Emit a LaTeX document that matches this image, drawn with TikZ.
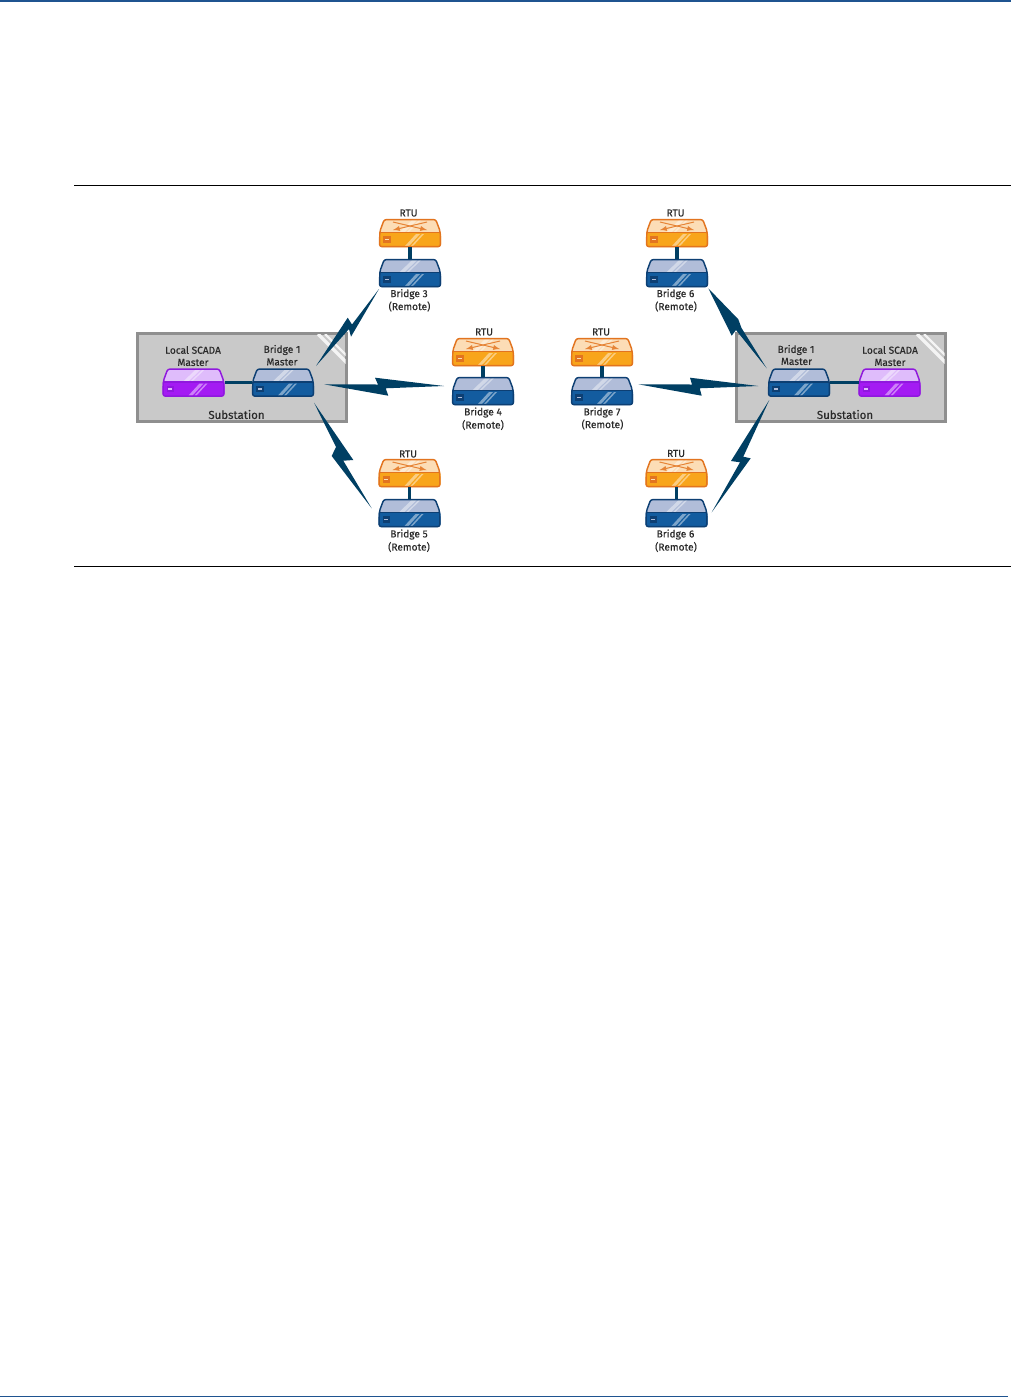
\documentclass[tikz,border=0pt]{standalone}
\usepackage{fontspec}
\setmainfont{Fira Sans}[FakeBold=0.25,AutoFakeBold=0.25]
\newfontfamily\lblfont{Fira Sans}[RawFeature={embolden=0.3}]
\definecolor{devLine}{HTML}{0D3F73}
\definecolor{boltCol}{HTML}{003F63}
\definecolor{txtCol}{HTML}{2A2A2A}
\tikzset{
  devbox/.style={minimum width=46.5pt,minimum height=21pt,inner sep=0pt,outer sep=0pt},
  lbl/.style={font=\lblfont\fontsize{7.6pt}{8pt}\selectfont,text=txtCol,inner sep=0pt},
  sublbl/.style={font=\lblfont\fontsize{8.6pt}{9pt}\selectfont,text=txtCol,inner sep=0pt},
  boltshape/.style={fill=boltCol,draw=none},
  link/.style={draw=boltCol,line width=2.5pt},
  subbox/.style={fill=black!21,draw=black!44,line width=1.8pt,minimum width=156.75pt,minimum height=66pt,inner sep=0pt,outer sep=0pt,anchor=north west},
  glass/.style={draw=white!80!black!21,line cap=butt},
  rule/.style={draw=black,line width=1pt},
  bar/.style={fill=#1,draw=none}
}
% name, x, y, outline, top panel, body
\newcommand{\device}[6]{%
  \begin{scope}[shift={(#2,#3)}]
    \node[devbox] (#1) at (31,14) {};
    \fill[#6,rounded corners=2.2pt] (0,12) rectangle (62,28);
    \fill[#5] (5.5,0.6) -- (56.5,0.6) -- (60.6,13.5) -- (1.4,13.5) -- cycle;
    \fill[white,opacity=.42] (21,12.8) -- (33,1.2) -- (38,1.2) -- (26,12.8) -- cycle;
    \fill[white,opacity=.42] (28,12.8) -- (40,1.2) -- (42,1.2) -- (30,12.8) -- cycle;
    \fill[white,opacity=.45] (26,27) -- (37,15) -- (41,15) -- (30,27) -- cycle;
    \fill[white,opacity=.45] (32,27) -- (43,15) -- (45,15) -- (34,27) -- cycle;
    \draw[#4,line width=1.1pt,line join=round,rounded corners=1.6pt]
      (5.2,0.6) -- (56.8,0.6) -- (61.2,12.5) -- (61.4,27.6) -- (0.6,27.6) -- (0.8,12.5) -- cycle;
    \draw[#4,line width=1.1pt] (0.8,13.6) -- (61.2,13.6);
    \fill[#4] (4,17.4) rectangle (11.5,23.6);
    \fill[#5] (5.7,19.6) rectangle (9.8,21.4);
  \end{scope}%
}
\begin{document}
\begin{tikzpicture}[x=0.75pt,y=-0.75pt]
\definecolor{devBody}{HTML}{135C9F}
\definecolor{devTop}{HTML}{B1BDD9}
\definecolor{rtuLine}{HTML}{E2741F}
\definecolor{rtuTop}{HTML}{FCDDB6}
\definecolor{rtuBody}{HTML}{F8A51B}
\definecolor{purLine}{HTML}{9018DE}
\definecolor{purTop}{HTML}{DFBCFB}
\definecolor{purBody}{HTML}{A41BF3}
\definecolor{barCol}{HTML}{1F5490}
\useasboundingbox (0,0) rectangle (1011,1397);
\fill[white] (0,0) rectangle (1011,1397);
% page furniture
\fill[bar=barCol] (0,0) rectangle (1011,2.2);
\fill[bar=barCol] (0,1396) rectangle (1008,1397);
\coordinate (ruleAL) at (74,185.5); \coordinate (ruleAR) at (1011,185.5);
\coordinate (ruleBL) at (74,566.5); \coordinate (ruleBR) at (1011,566.5);
\draw[rule] (ruleAL) -- (ruleAR);
\draw[rule] (ruleBL) -- (ruleBR);
% substations
\node[subbox] (subL) at (137.5,333.5) {};
\node[subbox] (subR) at (736.5,333.5) {};
\begin{scope}
  \clip (138.5,334.5) rectangle (345.5,420.5);
  \draw[glass,line width=2.4pt] (318,334) -- (347,363);
  \draw[glass,line width=1.6pt] (325,334) -- (347,356);
\end{scope}
\begin{scope}
  \clip (737.5,334.5) rectangle (944.5,420.5);
  \draw[glass,line width=2.4pt] (917,334) -- (946,363);
  \draw[glass,line width=1.6pt] (924,334) -- (946,356);
\end{scope}
% devices
\newcommand{\bridge}[3]{\device{#1}{#2}{#3}{devLine}{devTop}{devBody}}
\newcommand{\rtu}[3]{%
  \device{#1}{#2}{#3}{rtuLine}{rtuTop}{rtuBody}%
  \begin{scope}[shift={(#2,#3)}]
    \draw[rtuLine!85!rtuTop,line width=.75pt,-latex] (14,3) -- (48,11);
    \draw[rtuLine!85!rtuTop,line width=.75pt,-latex] (48,3) -- (14,11);
  \end{scope}}
\device{scadaL}{162.5}{368.5}{purLine}{purTop}{purBody}
\bridge{brL}{252}{368.5}
\bridge{brR}{768}{368.5}
\device{scadaR}{858.5}{368.5}{purLine}{purTop}{purBody}
\rtu{rtuC}{379}{219}  \bridge{brC}{379}{259}
\rtu{rtuD}{452}{338}  \bridge{brD}{452}{377}
\rtu{rtuE}{378.5}{459}\bridge{brE}{378.5}{499}
\rtu{rtuF}{646}{219}  \bridge{brF}{646}{259}
\rtu{rtuG}{571}{338}  \bridge{brG}{571}{377}
\rtu{rtuH}{645.5}{459}\bridge{brH}{645.5}{499}
% wired links
\draw[link] (scadaL) -- (brL);
\draw[link] (brR) -- (scadaR);
\foreach \a/\b in {rtuC/brC,rtuD/brD,rtuE/brE,rtuF/brF,rtuG/brG,rtuH/brH}{\draw[link] (\a) -- (\b);}
% radio bolts
\coordinate (bLTa) at (379,289); \coordinate (bLTb) at (316,366);
\fill[boltshape] (bLTa) -- (351,336.7) -- (349,329) -- (bLTb) -- (347.7,317.7) -- (352,324.5) -- cycle;
\coordinate (bLMa) at (324,384.3); \coordinate (bLMb) at (444,386);
\fill[boltshape] (bLMa) -- (378,384.5) -- (375,377.7) -- (bLMb) -- (385.7,388.3) -- (388.3,395.7) -- cycle;
\coordinate (bLBa) at (314,402.7); \coordinate (bLBb) at (371.7,508.3);
\fill[boltshape] (bLBa) -- (353.3,460) -- (343.3,460.7) -- (bLBb) -- (331.7,456) -- (336,447) -- cycle;
\coordinate (bRTa) at (708.3,288.3); \coordinate (bRTb) at (766.7,368.3);
\fill[boltshape] (bRTa) -- (738.3,319.3) -- (741.5,328) -- (bRTb) -- (736,330) -- (731.7,335.7) -- cycle;
\coordinate (bRMa) at (638.3,384.3); \coordinate (bRMb) at (758.3,386);
\fill[boltshape] (bRMa) -- (692,384.5) -- (690,377.7) -- (bRMb) -- (699.7,388.3) -- (701.7,395.7) -- cycle;
\coordinate (bRBa) at (769.3,400); \coordinate (bRBb) at (711.7,512.3);
\fill[boltshape] (bRBa) -- (731,461) -- (740,462.3) -- (bRBb) -- (750.7,458.3) -- (743.3,456.7) -- cycle;
% labels
\node[lbl] (tA) at (193,350) {Local SCADA};
\node[lbl] (tB) at (193,362.5) {Master};
\node[lbl] (tC) at (282,350) {Bridge 1};
\node[lbl] (tD) at (282,362) {Master};
\node[sublbl] (tE) at (236.5,414.5) {Substation};
\node[lbl] (tF) at (796,350) {Bridge 1};
\node[lbl] (tG) at (796.5,361.5) {Master};
\node[lbl] (tH) at (890,350) {Local SCADA};
\node[lbl] (tI) at (890,362.5) {Master};
\node[sublbl] (tJ) at (845,414.5) {Substation};
\node[lbl] (r1) at (408.5,213) {RTU};
\node[lbl] (r2) at (484,332) {RTU};
\node[lbl] (r3) at (408,454) {RTU};
\node[lbl] (r4) at (675.5,213) {RTU};
\node[lbl] (r5) at (601,332) {RTU};
\node[lbl] (r6) at (676,453.5) {RTU};
\node[lbl] (b3) at (409,294.2) {Bridge 3};
\node[lbl] (m3) at (409.5,306.5) {(Remote)};
\node[lbl] (b4) at (483,412.5) {Bridge 4};
\node[lbl] (m4) at (483,425) {(Remote)};
\node[lbl] (b5) at (409,534.5) {Bridge 5};
\node[lbl] (m5) at (409,547) {(Remote)};
\node[lbl] (b6) at (675.5,294.2) {Bridge 6};
\node[lbl] (m6) at (676,306.5) {(Remote)};
\node[lbl] (b7) at (602,412.5) {Bridge 7};
\node[lbl] (m7) at (602.5,424.5) {(Remote)};
\node[lbl] (b8) at (675.5,534.5) {Bridge 6};
\node[lbl] (m8) at (676,547) {(Remote)};
\end{tikzpicture}
\end{document}
